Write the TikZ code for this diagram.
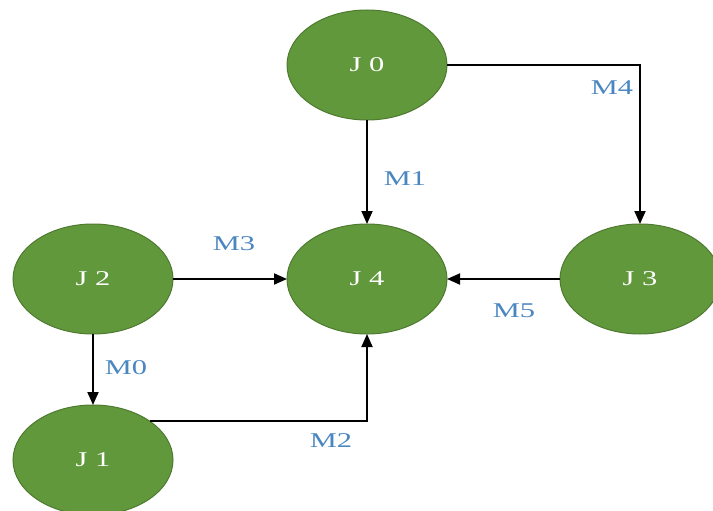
\documentclass[tikz,border=0pt]{standalone}
\usepackage{fontspec}
\setmainfont{Liberation Serif}
\newfontfamily\widefont[FakeStretch=1.45]{Liberation Serif}
\usetikzlibrary{shapes.geometric,arrows.meta}
\definecolor{jobgreen}{RGB}{98,152,60}
\definecolor{jobedge}{RGB}{78,122,48}
\definecolor{machblue}{RGB}{74,134,192}
\tikzset{
  job/.style={ellipse,draw=jobedge,line width=1pt,fill=jobgreen,
    minimum width=160pt,minimum height=110pt,inner sep=0pt,outer sep=0pt,
    text=white,font=\widefont\fontsize{21}{21}\selectfont},
  link/.style={-{Triangle[length=13pt,width=11pt]},line width=1.8pt},
  mach/.style={text=machblue,font=\widefont\fontsize{21}{21}\selectfont}
}
\begin{document}
\begin{tikzpicture}[x=1pt,y=-1pt]
\useasboundingbox (0,0) rectangle (713,511);
% jobs
\node[job] (j0) at (367,65) {J 0};
\node[job] (j4) at (367,279) {J 4};
\node[job] (j2) at (93,279) {J 2};
\node[job] (j3) at (640,279) {J 3};
\node[job] (j1) at (93,460) {J 1};
% links
\draw[link] (j0.east) -| (j3.north);
\draw[link] (j0.south) -- (j4.north);
\draw[link] (j2.east) -- (j4.west);
\draw[link] (j3.west) -- (j4.east);
\draw[link] (j2.south) -- (j1.north);
\draw[link] (j1.north east) -| (j4.south);
% machines
\node[mach] (m4) at (612,88) {M4};
\node[mach] (m1) at (405,179) {M1};
\node[mach] (m3) at (234,244) {M3};
\node[mach] (m5) at (514,311) {M5};
\node[mach] (m0) at (126,368) {M0};
\node[mach] (m2) at (331,441) {M2};
\end{tikzpicture}
\end{document}
